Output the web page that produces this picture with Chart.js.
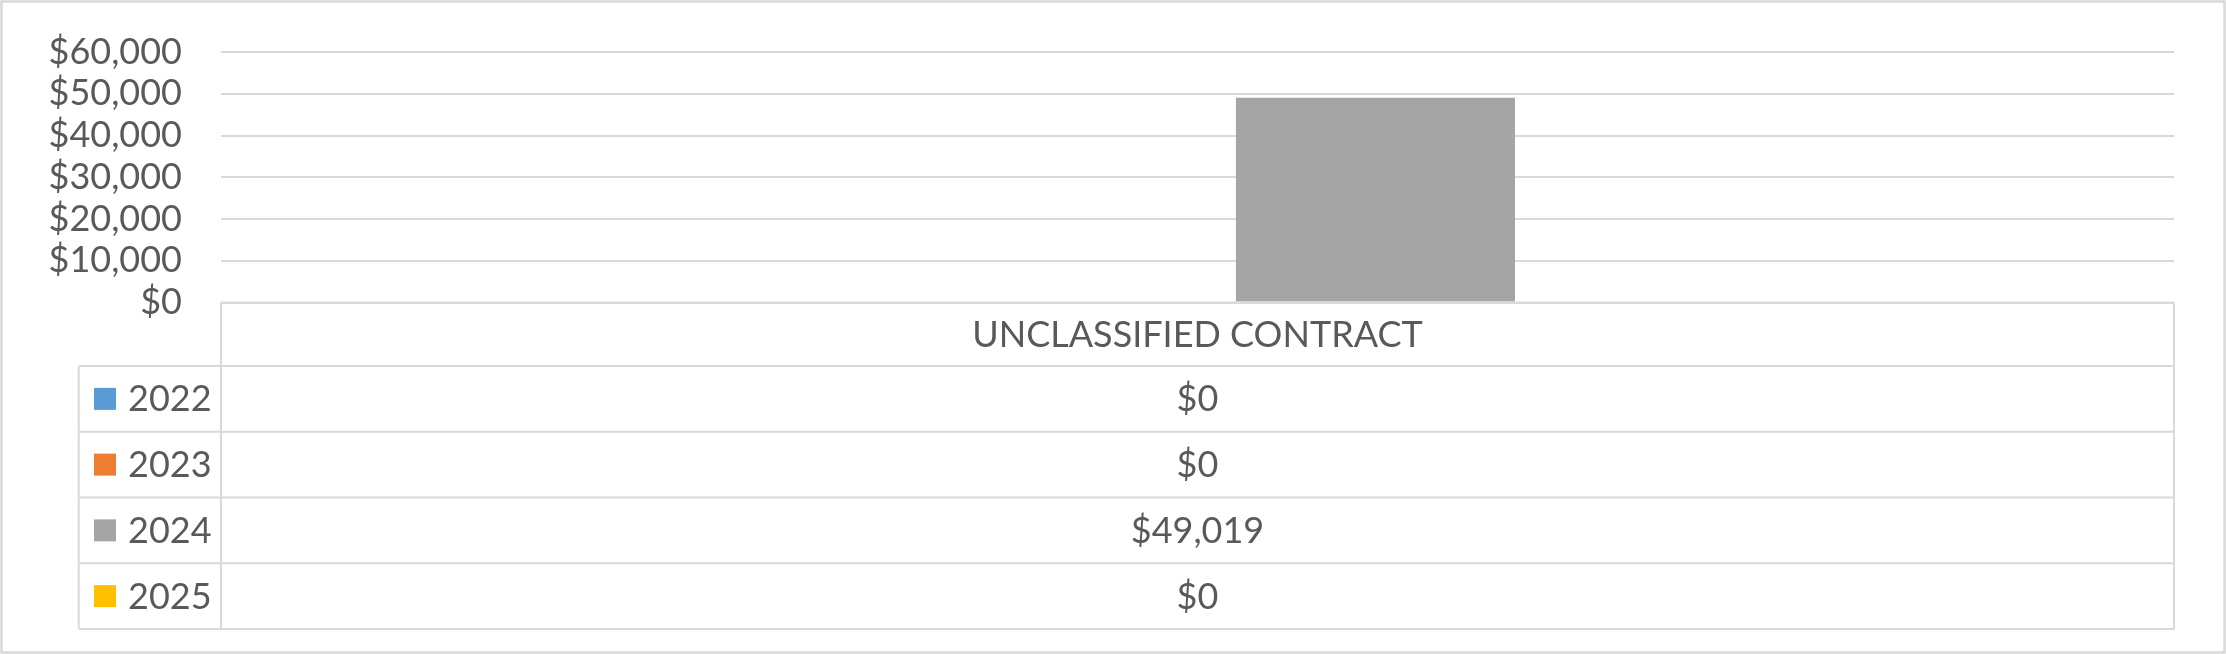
<!DOCTYPE html>
<html>
<head>
<meta charset="utf-8">
<script src="https://cdn.jsdelivr.net/npm/chart.js@4/dist/chart.umd.min.js"></script>
<style>
  html, body { margin: 0; padding: 0; background: #ffffff; }
  #wrap { width: 2226px; height: 654px; position: relative; }
  canvas { display: block; }
</style>
</head>
<body>
<div id="wrap"><canvas id="c" width="2226" height="654"></canvas></div>
<script>
// ---- Data ----
const categories = ['UNCLASSIFIED CONTRACT'];
const seriesNames = ['2022', '2023', '2024', '2025'];
const values2022 = [0];
const values2023 = [0];
const values2024 = [49019];
const values2025 = [0];
const seriesColors = ['#5B9BD5', '#ED7D31', '#A5A5A5', '#FFC000'];
const yMin = 0;
const yMax = 60000;
const yStep = 10000;

const seriesValues = [values2022, values2023, values2024, values2025];

const FONT_FAMILY = 'Lato, "Liberation Sans", sans-serif';
const FONT_SIZE = 36;
const TEXT_COLOR = '#595959';
const LINE_COLOR = '#D9D9D9';

function money(v) {
  return '$' + Number(v).toLocaleString('en-US');
}

// Data table drawn under the plot, using the chart's own x scale
const dataTablePlugin = {
  id: 'dataTable',
  afterDraw(chart, args, opts) {
    const ctx = chart.ctx;
    const ca = chart.chartArea;
    const xs = chart.scales.x;
    const nCat = chart.data.labels.length;
    const catW = (ca.right - ca.left) / nCat;
    const headerTop = ca.bottom;
    const headerBottom = headerTop + opts.headerHeight;
    const rowH = opts.rowHeight;
    const ds = chart.data.datasets;
    const tableBottom = headerBottom + rowH * ds.length;
    const legendLeft = opts.legendLeft;

    ctx.save();
    ctx.strokeStyle = LINE_COLOR;
    ctx.lineWidth = 2;

    ctx.beginPath();
    ctx.moveTo(ca.left, headerTop); ctx.lineTo(ca.right, headerTop);
    for (let r = 0; r <= ds.length; r++) {
      const y = headerBottom + r * rowH;
      ctx.moveTo(legendLeft, y); ctx.lineTo(ca.right, y);
    }
    ctx.moveTo(legendLeft, headerBottom); ctx.lineTo(legendLeft, tableBottom);
    for (let i = 0; i <= nCat; i++) {
      const x = ca.left + i * catW;
      ctx.moveTo(x, headerTop); ctx.lineTo(x, tableBottom);
    }
    ctx.stroke();

    ctx.fillStyle = TEXT_COLOR;
    ctx.font = FONT_SIZE + 'px ' + FONT_FAMILY;
    ctx.textAlign = 'center';
    ctx.textBaseline = 'alphabetic';
    const capHalf = opts.capHalf;
    chart.data.labels.forEach((lab, i) => {
      const cx = xs.getPixelForValue(i);
      ctx.fillText(lab, cx, (headerTop + headerBottom) / 2 + capHalf);
    });

    ds.forEach((d, r) => {
      const top = headerBottom + r * rowH;
      const mid = top + rowH / 2;
      ctx.fillStyle = d.backgroundColor;
      ctx.fillRect(opts.keyX, mid - opts.keySize / 2, opts.keySize, opts.keySize);
      ctx.fillStyle = TEXT_COLOR;
      ctx.textAlign = 'left';
      ctx.fillText(d.label, opts.keyX + opts.keySize + opts.keyGap, mid + capHalf);
      ctx.textAlign = 'center';
      d.data.forEach((v, i) => {
        const cx = xs.getPixelForValue(i);
        ctx.fillText(money(v), cx, mid + capHalf);
      });
    });

    ctx.strokeStyle = LINE_COLOR;
    ctx.lineWidth = 2.5;
    ctx.strokeRect(1.5, 1.5, chart.width - 3, chart.height - 3);
    ctx.restore();
  }
};

const datasets = seriesNames.map((name, i) => ({
  label: name,
  data: seriesValues[i],
  backgroundColor: seriesColors[i],
  borderWidth: 0,
  categoryPercentage: 0.729,
  barPercentage: 0.784
}));

new Chart(document.getElementById('c'), {
  type: 'bar',
  data: { labels: categories, datasets },
  plugins: [dataTablePlugin],
  options: {
    responsive: false,
    animation: false,
    devicePixelRatio: 1,
    layout: { padding: { top: 52, right: 52, bottom: 351.5, left: 0 } },
    plugins: {
      legend: { display: false },
      tooltip: { enabled: false },
      dataTable: {
        headerHeight: 63.5,
        rowHeight: 65.75,
        legendLeft: 78.7,
        keyX: 94,
        keySize: 22,
        keyGap: 12,
        capHalf: 12.5
      }
    },
    scales: {
      x: { display: false },
      y: {
        min: yMin,
        max: yMax,
        afterFit(scale) { scale.width = 221; },
        border: { display: false },
        grid: {
          color: LINE_COLOR,
          lineWidth: 2,
          drawTicks: true,
          tickLength: 39,
          tickColor: 'rgba(0,0,0,0)'
        },
        ticks: {
          stepSize: yStep,
          autoSkip: false,
          padding: 0,
          color: TEXT_COLOR,
          font: { family: FONT_FAMILY, size: FONT_SIZE },
          callback: (v) => money(v)
        }
      }
    }
  }
});
</script>
</body>
</html>
